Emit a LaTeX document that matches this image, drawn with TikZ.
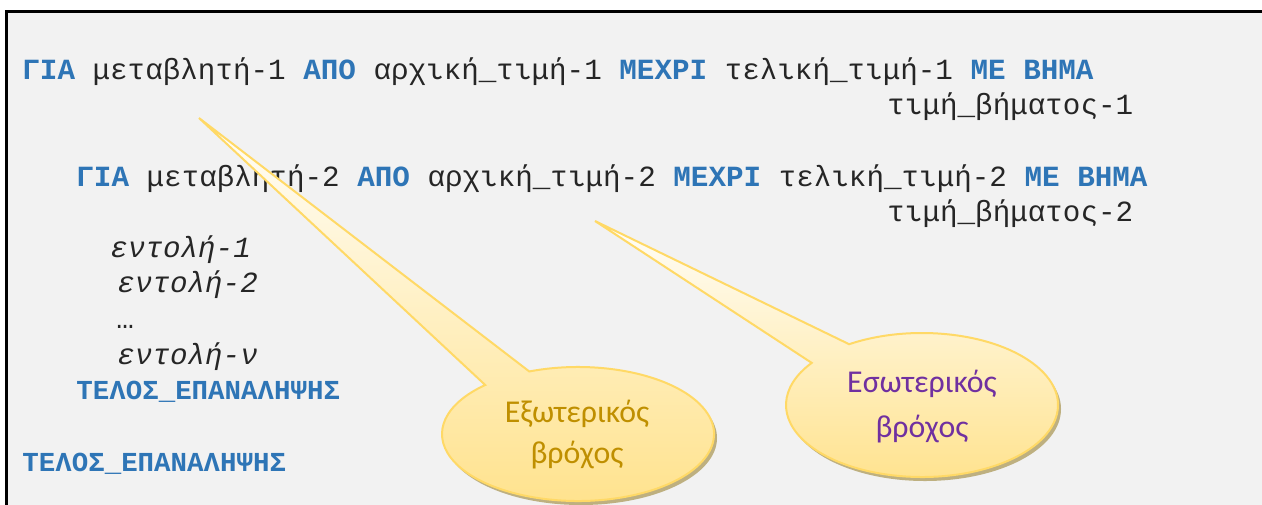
\documentclass[tikz,border=0pt]{standalone}
\usepackage{fontspec}
\setmonofont{Liberation Mono}
\newfontfamily\calfont{Carlito}
\definecolor{bggray}{HTML}{F2F2F2}
\definecolor{kwblue}{HTML}{2E75B6}
\definecolor{codeblack}{HTML}{262626}
\definecolor{calborder}{HTML}{FFD966}
\definecolor{caltop}{HTML}{FFFEFA}
\definecolor{calmid}{HTML}{FFF3D2}
\definecolor{calbot}{HTML}{FFE28C}
\definecolor{calshadow}{RGB}{190,176,128}
\definecolor{goldtext}{HTML}{BF8F00}
\definecolor{purpletext}{HTML}{7030A0}
\newcommand\kwd[1]{\textbf{\textcolor{kwblue}{#1}}}
\tikzset{
  code/.style={anchor=base west, inner sep=0pt, text=codeblack,
    font=\ttfamily\fontsize{14.63}{18}\selectfont},
  codeit/.style={code, font=\ttfamily\itshape\fontsize{14.63}{18}\selectfont},
  codeend/.style={code, font=\ttfamily\bfseries\fontsize{13.73}{17}\selectfont, text=kwblue},
  callout/.style={draw=calborder, line width=1pt, top color=caltop, middle color=calmid, bottom color=calbot},
  calshade/.style={fill=calshadow},
  caltext/.style={anchor=base, inner sep=0pt, font=\calfont\fontsize{15.9}{21}\selectfont},
}
\begin{document}
\begin{tikzpicture}[x=0.5pt,y=-0.5pt]
\useasboundingbox (0,0) rectangle (1262,504);
\clip (0,0) rectangle (1262,504);
\fill[white] (0,0) rectangle (1262,504);
\fill[bggray] (6,11) rectangle (1290,530);
\draw[line width=1.5pt] (6,530) -- (6,11) -- (1290,11);

\node[code] (l1) at (22,79) {\kwd{ΓΙΑ} μεταβλητή-1 \kwd{ΑΠΟ} αρχική\_τιμή-1 \kwd{ΜΕΧΡΙ} τελική\_τιμή-1 \kwd{ΜΕ ΒΗΜΑ}};
\node[code] (l2) at (887,114.6) {τιμή\_βήματος-1};
\node[code] (l3) at (76,186) {\kwd{ΓΙΑ} μεταβλητή-2 \kwd{ΑΠΟ} αρχική\_τιμή-2 \kwd{ΜΕΧΡΙ} τελική\_τιμή-2 \kwd{ΜΕ ΒΗΜΑ}};
\node[code] (l4) at (887,221.6) {τιμή\_βήματος-2};
\node[codeit] (e1) at (110,257) {εντολή-1};
\node[codeit] (e2) at (117,292.7) {εντολή-2};
\node[code] (dots) at (116,328) {…};
\node[codeit] (en) at (117,364) {εντολή-ν};
\node[codeend] (t1) at (76,399.5) {ΤΕΛΟΣ\_ΕΠΑΝΑΛΗΨΗΣ};
\node[codeend] (t2) at (22,471.5) {ΤΕΛΟΣ\_ΕΠΑΝΑΛΗΨΗΣ};

% outer callout
\fill[calshade] (581,438) ellipse [x radius=136, y radius=67];
\path[callout] ([shift={(578,434)}]-111:136 and 67)
  arc[start angle=-111, end angle=227, x radius=136, y radius=67]
  -- (199,118) -- cycle;
\node[caltext, text=goldtext] (o1) at (577,422) {Εξωτερικός};
\node[caltext, text=goldtext] (o2) at (577,463) {βρόχος};

% inner callout
\fill[calshade] (925,409) ellipse [x radius=136, y radius=72];
\path[callout] ([shift={(922,405)}]-122.4:136 and 72)
  arc[start angle=-122.4, end angle=215.8, x radius=136, y radius=72]
  -- (595,221) -- cycle;
\node[caltext, text=purpletext] (i1) at (922,392) {Εσωτερικός};
\node[caltext, text=purpletext] (i2) at (922,437) {βρόχος};
\end{tikzpicture}
\end{document}
